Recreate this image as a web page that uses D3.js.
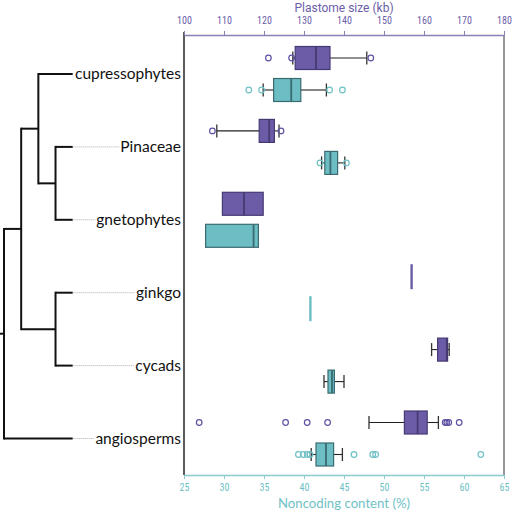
<!DOCTYPE html>
<html>
<head>
<meta charset="utf-8">
<script src="https://cdn.jsdelivr.net/npm/d3@7"></script>
<style>
  html, body { margin: 0; padding: 0; background: #fff; }
  svg { display: block; }
</style>
</head>
<body>
<svg id="chart" width="512" height="512"></svg>
<script>
// ---------------- data ----------------
const clades = ["cupressophytes", "Pinaceae", "gnetophytes", "ginkgo", "cycads", "angiosperms"];

// plastome size (kb): [whiskerLow, q1, median, q3, whiskerHigh]
const sizeBox = [
  [127.2, 127.8, 133.0, 136.5, 145.7],
  [108.2, 118.8, 121.3, 122.6, 123.75],
  [109.6, 109.6, 115.0, 119.8, 119.8],
  [156.9, 156.9, 156.9, 156.9, 156.9],
  [161.9, 163.4, 165.7, 165.9, 166.3],
  [146.25, 155.1, 158.4, 160.8, 163.6]
];
const sizeOutliers = [
  [121.1, 126.9, 146.7],
  [107.1, 124.25],
  [],
  [],
  [],
  [103.8, 125.4, 130.8, 135.9, 165.3, 165.7, 166.2, 168.8]
];

// noncoding content (%): [whiskerLow, q1, median, q3, whiskerHigh]
const ncBox = [
  [34.9, 36.2, 38.4, 39.6, 42.8],
  [42.2, 42.6, 43.3, 44.2, 45.1],
  [27.7, 27.7, 33.7, 34.3, 34.3],
  [40.8, 40.8, 40.8, 40.8, 40.8],
  [42.5, 43.0, 43.5, 43.8, 45.0],
  [40.9, 41.5, 42.75, 43.7, 44.8]
];
const ncOutliers = [
  [33.1, 34.7, 43.2, 44.8],
  [42.0, 45.3],
  [],
  [],
  [],
  [39.3, 39.9, 40.4, 40.75, 46.25, 48.6, 48.95, 62.1]
];

const sizeTicks = [100, 110, 120, 130, 140, 150, 160, 170, 180];
const ncTicks = [25, 30, 35, 40, 45, 50, 55, 60, 65];

const treeData = {
  children: [
    { children: [
      { children: [
        { name: "cupressophytes" },
        { children: [ { name: "Pinaceae" }, { name: "gnetophytes" } ] }
      ] },
      { children: [ { name: "ginkgo" }, { name: "cycads" } ] }
    ] },
    { name: "angiosperms" }
  ]
};

// ---------------- layout ----------------
const svg = d3.select("#chart");
const plot = { left: 184, right: 504, top: 35, bottom: 475 };
const FONT = "Lato, 'Open Sans', sans-serif";
const TITLE_FONT = "Roboto, Lato, sans-serif";
const NARROW = "'Liberation Sans Narrow', 'Arial Narrow', 'Roboto Condensed', Lato, sans-serif";

const PURPLE = "#6c5ca8", PURPLE_DARK = "#463a73", PURPLE_TXT = "#6b5ea9";
const TEAL = "#6cbdc4", TEAL_DARK = "#3a6b70", TEAL_TXT = "#6fc1c6";

const xSize = d3.scaleLinear().domain([100, 180]).range([plot.left, plot.right]);
const xNc = d3.scaleLinear().domain([25, 65]).range([plot.left, plot.right]);
const yClade = d3.scalePoint().domain(clades).range([74, 438.5]);
const rowOffset = 16, boxH = 23, capH = 13;

// frame
svg.append("line").attr("x1", plot.left).attr("x2", plot.left)
  .attr("y1", plot.top - 3).attr("y2", plot.bottom)
  .attr("stroke", "#333").attr("stroke-width", 1.6);
svg.append("line").attr("x1", plot.right).attr("x2", plot.right)
  .attr("y1", plot.top).attr("y2", plot.bottom)
  .attr("stroke", "#7d7d7d").attr("stroke-width", 1.6);

// top axis
const topAxis = svg.append("g").attr("transform", `translate(0,${plot.top})`)
  .call(d3.axisTop(xSize).tickValues(sizeTicks).tickSize(4).tickSizeOuter(0));
topAxis.select(".domain").attr("stroke", "#8a80b8").attr("stroke-width", 1.4);
topAxis.selectAll(".tick line").attr("stroke", "#8a80b8");
topAxis.selectAll(".tick text").attr("fill", PURPLE_TXT).attr("font-family", NARROW)
  .attr("font-size", 10).attr("dy", 0).attr("y", -11.5);

// bottom axis
const botAxis = svg.append("g").attr("transform", `translate(0,${plot.bottom})`)
  .call(d3.axisBottom(xNc).tickValues(ncTicks).tickSize(4).tickSizeOuter(0));
botAxis.select(".domain").attr("stroke", "#8ccacd").attr("stroke-width", 1.4);
botAxis.selectAll(".tick line").attr("stroke", "#8ccacd");
botAxis.selectAll(".tick text").attr("fill", TEAL_TXT).attr("font-family", NARROW)
  .attr("font-size", 10).attr("dy", 0).attr("y", 16);

// axis titles
svg.append("text").attr("x", (plot.left + plot.right) / 2).attr("y", 11.5)
  .attr("text-anchor", "middle").attr("font-family", TITLE_FONT).attr("font-size", 12)
  .attr("fill", PURPLE_TXT).text("Plastome size (kb)");
svg.append("text").attr("x", (plot.left + plot.right) / 2).attr("y", 508)
  .attr("text-anchor", "middle").attr("font-family", FONT).attr("font-size", 13.2)
  .attr("fill", TEAL_TXT).text("Noncoding content (%)");

// boxplots
function drawBoxes(boxes, outliers, x, dy, fill, dark, outlineColor) {
  const g = svg.append("g");
  boxes.forEach((b, i) => {
    const cy = yClade(clades[i]) + dy;
    const [wl, q1, med, q3, wh] = b;
    const bw = x(q3) - x(q1);
    if (bw < 1) {
      g.append("rect").attr("x", x(med) - 1.2).attr("width", 2.4)
        .attr("y", cy - boxH / 2 - 1).attr("height", boxH + 2).attr("fill", fill);
      return;
    }
    if (x(q1) - x(wl) > 0.5) {
      g.append("line").attr("x1", x(wl)).attr("x2", x(q1)).attr("y1", cy).attr("y2", cy)
        .attr("stroke", "#222").attr("stroke-width", 1.1);
      g.append("line").attr("x1", x(wl)).attr("x2", x(wl)).attr("y1", cy - capH / 2).attr("y2", cy + capH / 2)
        .attr("stroke", "#333").attr("stroke-width", 1.3);
    }
    if (x(wh) - x(q3) > 0.5) {
      g.append("line").attr("x1", x(q3)).attr("x2", x(wh)).attr("y1", cy).attr("y2", cy)
        .attr("stroke", "#222").attr("stroke-width", 1.1);
      g.append("line").attr("x1", x(wh)).attr("x2", x(wh)).attr("y1", cy - capH / 2).attr("y2", cy + capH / 2)
        .attr("stroke", "#333").attr("stroke-width", 1.3);
    }
    g.append("rect").attr("x", x(q1)).attr("width", bw)
      .attr("y", cy - boxH / 2).attr("height", boxH)
      .attr("fill", fill).attr("stroke", dark).attr("stroke-width", 1.2);
    g.append("line").attr("x1", x(med)).attr("x2", x(med))
      .attr("y1", cy - boxH / 2).attr("y2", cy + boxH / 2)
      .attr("stroke", dark).attr("stroke-width", 1.8);
    outliers[i].forEach(v => {
      g.append("circle").attr("cx", x(v)).attr("cy", cy).attr("r", 2.8)
        .attr("fill", "none").attr("stroke", outlineColor).attr("stroke-width", 1.2);
    });
  });
}
drawBoxes(sizeBox, sizeOutliers, xSize, -rowOffset, PURPLE, PURPLE_DARK, "#5d52a3");
drawBoxes(ncBox, ncOutliers, xNc, rowOffset, TEAL, TEAL_DARK, "#6fc0c5");

// ---------------- tree ----------------
const leafX = 72.7, rootX = 4;
const root = d3.hierarchy(treeData);
d3.cluster().separation(() => 1).size([1, leafX - rootX])(root);
root.eachAfter(n => {
  n.py = n.children ? d3.mean(n.children, c => c.py) : yClade(n.data.name);
});
const px = d => rootX + d.y;
const py = d => d.py;

const tree = svg.append("g").attr("stroke", "#111").attr("stroke-width", 2).attr("fill", "none");
root.descendants().forEach(n => {
  if (!n.children) return;
  const ys = n.children.map(py);
  tree.append("line").attr("x1", px(n)).attr("x2", px(n))
    .attr("y1", d3.min(ys) - 1).attr("y2", d3.max(ys) + 1);
  n.children.forEach(c => {
    tree.append("line").attr("x1", px(n)).attr("x2", px(c)).attr("y1", py(c)).attr("y2", py(c));
  });
});
tree.append("line").attr("x1", 0).attr("x2", px(root)).attr("y1", py(root)).attr("y2", py(root));

const labelRight = 181;
root.leaves().forEach(l => {
  const t = svg.append("text").attr("x", labelRight).attr("y", py(l) + 5)
    .attr("text-anchor", "end").attr("font-family", FONT).attr("font-size", 15.5)
    .attr("fill", "#111").text(l.data.name);
  const w = t.node().getComputedTextLength();
  const start = labelRight - w - 1;
  if (start - leafX > 3) {
    svg.append("line").attr("x1", leafX).attr("x2", start).attr("y1", py(l)).attr("y2", py(l))
      .attr("stroke", "#999").attr("stroke-width", 0.8).attr("stroke-dasharray", "1,1");
  }
});
</script>
</body>
</html>
